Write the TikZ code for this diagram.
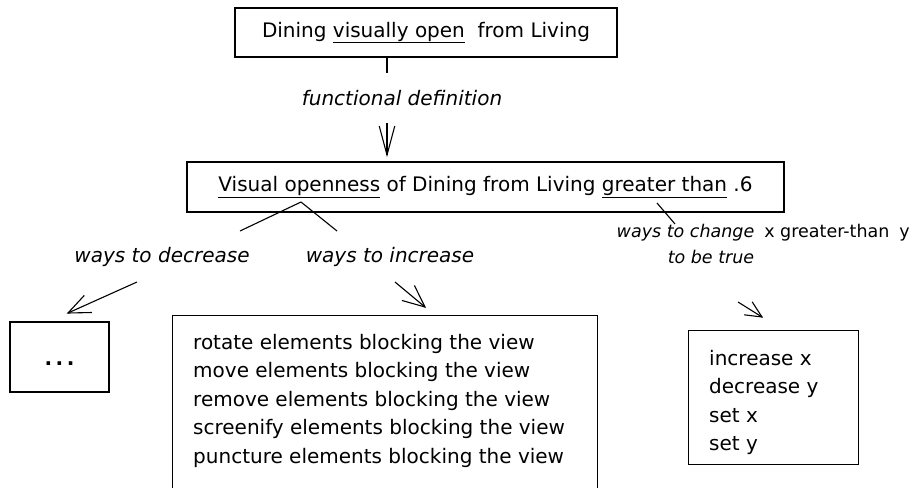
\documentclass[tikz,border=0pt]{standalone}
\usepackage{fontspec}
\setmainfont{DejaVu Sans}
\usetikzlibrary{calc}
\newcommand\mytip[4]{\draw[conn, line join=miter] ($(#2)!#3!#4:(#1)$) -- (#2) -- ($(#2)!#3!-#4:(#1)$);}
\begin{document}
\begin{tikzpicture}[x=1pt,y=-1pt,
  every node/.style={font=\fontsize{20}{28.5}\selectfont, inner sep=0pt},
  box/.style={draw, line width=1.3pt},
  conn/.style={line width=1.1pt},
  lbl/.style={font=\fontsize{20}{24}\selectfont\itshape},
  smalllbl/.style={font=\fontsize{17.5}{21}\selectfont},
]
\useasboundingbox (0,0) rectangle (915,487);
% boxes
\node[box, minimum width=382, minimum height=49] (top) at (426,32.5)
  {Dining \underline{visually open}\hspace{6.4pt} from Living};
\node[box, minimum width=597, minimum height=50] (mid) at (485.5,187)
  {\underline{Visual openness} of Dining from Living \underline{greater than} .6};
\node[box, minimum width=99, minimum height=70, text height=16pt, text depth=0pt,
  font=\fontsize{20}{20}\selectfont\bfseries] (dots) at (59.5,357) {.\hspace{3.5pt}.\hspace{3.5pt}.};
\node[box, anchor=north west, minimum width=425, minimum height=220] (incbox) at (172,315) {};
\node[anchor=north west, align=left] (inctext) at (193,334)
  {rotate elements blocking the view\\
   move elements blocking the view\\
   remove elements blocking the view\\
   screenify elements blocking the view\\
   puncture elements blocking the view};
\node[box, anchor=north west, minimum width=170, minimum height=134] (chgbox) at (688,330) {};
\node[anchor=north west, align=left] (chgtext) at (709,350)
  {increase x\\ decrease y\\ set x\\ set y};
% labels
\node[lbl] (fd) at (402,98) {functional definition};
\node[lbl] (dec) at (162,257) {ways to decrease};
\node[lbl] (inc) at (390,257) {ways to increase};
\node[smalllbl, anchor=east] (chg) at (910,233) {\textit{ways to change}\hspace{10pt}x greater-than\hspace{10pt}y};
\node[smalllbl, font=\fontsize{17.5}{21}\selectfont\itshape] (true) at (711,257) {to be true};
% connectors
\coordinate (fdtop) at (387,73);
\draw[conn] (top.south -| fdtop) -- (fdtop);
\coordinate (fda) at (387,123);
\coordinate (fdb) at (387,155);
\draw[conn] (fda) -- (fdb);
\mytip{fda}{fdb}{30pt}{15}
\coordinate (vo) at (301,202);
\coordinate (dec0) at (240,231);
\coordinate (inc0) at (337,231);
\draw[conn] (vo) -- (dec0);
\draw[conn] (vo) -- (inc0);
\coordinate (gt) at (657,203);
\coordinate (chg0) at (675,224);
\draw[conn] (gt) -- (chg0);
\coordinate (deca) at (137,282);
\coordinate (decb) at (68,313);
\draw[conn] (deca) -- (decb);
\mytip{deca}{decb}{24pt}{23}
\coordinate (inca) at (395,282);
\coordinate (incb) at (425,307);
\draw[conn] (inca) -- (incb);
\mytip{inca}{incb}{24pt}{24}
\coordinate (chga) at (738,302);
\coordinate (chgb) at (762,317);
\draw[conn] (chga) -- (chgb);
\mytip{chga}{chgb}{18pt}{25}
\end{tikzpicture}
\end{document}
